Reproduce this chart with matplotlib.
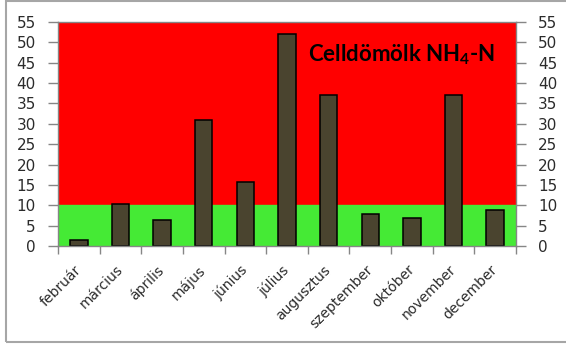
import matplotlib
matplotlib.use("Agg")
import matplotlib.pyplot as plt
from matplotlib.patches import Rectangle
from matplotlib.transforms import ScaledTranslation

months = ["február", "március", "április", "május", "június", "július",
          "augusztus", "szeptember", "október", "november", "december"]
nh4_n = [1.5, 10.4, 6.5, 31, 15.7, 52, 37, 7.8, 6.9, 37, 8.9]
limit = 10
y_max = 55
y_ticks = list(range(0, 56, 5))
title = "Celldömölk NH$_{\\mathbf{4}}$-N"

plt.rcParams["mathtext.fontset"] = "custom"
plt.rcParams["mathtext.bf"] = "Lato:bold"
plt.rcParams["mathtext.rm"] = "Lato:bold"

W, H = 566, 346
fig = plt.figure(figsize=(W / 100, H / 100), dpi=100)
ax = fig.add_axes([58 / W, (H - 246) / H, (516 - 58) / W, (246 - 22) / H])

ax.set_facecolor("#FF0000")
ax.axhspan(0, limit, color="#45EA35", zorder=0)

x = list(range(len(months)))
ax.bar(x, nh4_n, width=0.42, color="#4A442F", edgecolor="black",
       linewidth=1.1, zorder=2)

ax.set_xlim(-0.5, len(months) - 0.5)
ax.set_ylim(0, y_max)

axis_grey = "#868686"
for s in ax.spines.values():
    s.set_color(axis_grey)
    s.set_linewidth(1.0)

ax.set_yticks(y_ticks)
ax.tick_params(axis="y", direction="out", length=7, width=1, color=axis_grey,
               labelsize=11, labelcolor="#2b2b2b", pad=9,
               left=True, right=True, labelleft=True, labelright=True)

# category boundaries carry the tick marks, labels sit at the centres
ax.set_xticks([i - 0.5 for i in range(len(months) + 1)])
ax.set_xticklabels([])
ax.tick_params(axis="x", which="major", direction="out", length=6, width=1,
               color=axis_grey)
ax.set_xticks(x, minor=True)
ax.set_xticklabels(months, minor=True, rotation=45, ha="right",
                   fontsize=10, color="#2b2b2b")
ax.tick_params(axis="x", which="minor", length=0, pad=4)
shift = ScaledTranslation(5 / 100, -11 / 100, fig.dpi_scale_trans)
for lab in ax.get_xticklabels(minor=True):
    lab.set_transform(lab.get_transform() + shift)

ax.text(0.751, 0.853, title, transform=ax.transAxes, ha="center",
        va="center", fontsize=16, fontweight="bold", family="Lato",
        color="black", zorder=3)

fig.patches.append(Rectangle((6 / W, 4 / H), 2, 1 - 4 / H - 0.5 / H,
                             transform=fig.transFigure, fill=False,
                             edgecolor="#A6A6A6", linewidth=1.5))

fig.savefig("out.png", dpi=100)
